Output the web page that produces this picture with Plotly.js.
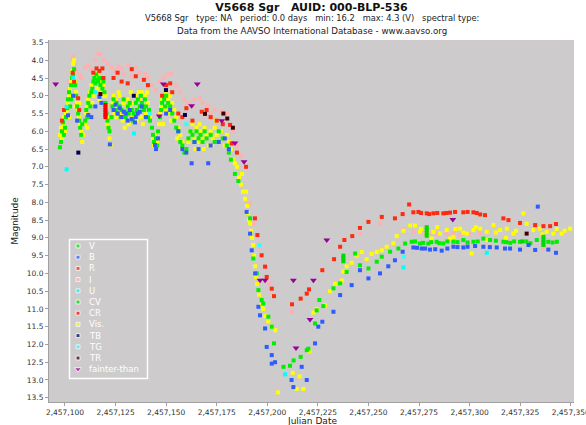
<!DOCTYPE html>
<html><head><meta charset="utf-8">
<script src="https://cdn.plot.ly/plotly-3.0.1.min.js"></script>
<style>html,body{margin:0;padding:0;background:#fff}#chart{width:586px;height:425px}</style>
</head><body><div id="chart"></div>
<script>
const JD0 = 2457000;
// [day offset from JD0, magnitude]
const visPts = [
[97.5,6.1],[98,5.9],[98.5,6.2],[99,5.8],[99.5,5.6],[100,6.0],[100.5,5.5],[101,5.4],[101.5,5.2],[102,5.0],[102.5,4.8],[103,4.6],[103.5,4.3],[104,4.1],[104.5,4.0],[104,4.3],[103.5,4.7],[104.5,4.5],[105,4.6],[105.5,4.9],[106,5.2],[106.5,5.4],[107,5.6],[107.5,5.8],[108,6.0],[108.5,6.3],[109,6.1],[107,5.2],[102,5.6],[105,5.3],
[110,5.8],[110.5,5.5],[111,5.3],[111.5,5.1],[112,5.0],[112.5,4.9],[113,4.7],[114,4.6],[115,4.5],[116,4.4],[117,4.5],[118,4.6],[119,4.7],[114,5.0],[116,4.8],[118,4.9],[113.5,5.2],[119.5,5.0],[111,5.9],[117,5.1],
[120,5.0],[120.5,5.3],[121,5.6],[121.5,5.9],[122,6.2],[122.5,6.4],[121,5.8],
[123.5,5.2],[124,5.0],[125,5.1],[126,5.3],[127,5.0],[128,5.4],[129,5.2],[130,5.5],[131,5.1],[132,5.3],[133,5.6],[134,5.2],[135,5.0],[136,5.4],[137,5.1],[138,4.9],[139,5.3],[140,5.5],[141,5.2],[142,5.6],[125.5,5.6],[128.5,5.7],[131.5,5.8],[134.5,5.5],[137.5,5.6],[124.5,5.5],[127.5,5.5],[130.5,5.3],[133.5,5.0],[136.5,4.9],[139.5,5.0],[126.5,4.9],[129.5,5.9],[132.5,4.9],[135.5,5.7],[138.5,5.8],[140.5,4.9],
[143,5.9],[143.5,6.2],[144,6.4],[144.5,6.1],[145,6.5],[145.5,6.3],[146,6.0],[146.5,5.8],
[147,5.5],[147.5,5.3],[148,5.1],[149,5.0],[150,4.9],[151,5.1],[152,5.0],[153,5.2],[149.5,5.4],[151.5,5.5],[148.5,5.8],[152.5,5.7],
[154,5.4],[155,5.6],[156,5.9],[157,6.1],[158,6.3],[159,6.5],[160,6.6],[155.5,6.2],[157.5,6.5],[161,6.3],
[162,6.0],[163,5.8],[164,6.2],[165,5.9],[166,6.3],[167,6.0],[168,6.2],[169,5.9],[170,6.1],[171,6.4],[172,6.0],[173,6.2],[174,5.9],[175,6.1],[176,6.3],[177,6.0],[178,6.2],[179,6.4],[180,6.1],[164.5,6.5],[168.5,6.5],[172.5,6.4],[166.5,5.8],[174.5,5.7],
[181,6.3],[182,6.5],[183,6.8],[184,6.9],[185,7.0],[186,7.3],[187,7.5],[188,7.7],[189,7.9],[190,8.1],[190.5,8.3],[191,8.5],[191.5,8.6],[192,8.8],[192.5,9.0],[193,9.2],[193.5,9.5],[194,9.8],[194.5,10.1],[195,10.3],[196,10.6],[197,10.9],[198,11.0],[199,11.2],[200.5,11.35],[202,11.5],[204,11.6],[187.5,7.2],[189.5,7.7],
[205.3,13.35],[212.6,12.8],[214.5,13.25],[217.8,13.25],[216,12.9],
[220.8,12.2],[222.8,11.1],[224.4,11.0],[228.5,10.9],[231,10.5],[233.5,10.3],[236.8,10.2],[237.6,9.95],[239.2,9.8],[241.7,9.7],[244.2,9.5],[246.7,9.4],[249.1,9.6],[251.6,9.45],[254.1,9.4],[256.6,9.35],[259,9.25],[262.3,9.15],[264,8.95],[267.3,8.8],[270.6,8.65],[273,8.65],
[275.5,8.83],[278.8,8.88],[282.1,8.83],[285.4,8.88],[288.7,8.78],[292,8.97],[295.3,8.74],[298.6,8.88],[301.9,8.78],[305.2,8.74],[308.5,8.83],[311.8,8.64],[315.1,8.78],[318.4,8.74],[321.7,8.88],[326.6,8.31],[328.2,8.6],[331.5,8.78],[334.8,8.74],[338.1,8.83],[341.4,8.88],[345.5,8.88],[349.7,8.74],[301,9.44],[281.3,9.02],[290.3,9.02],[308.5,9.06],[318,9.0],[276,8.75],[284,8.7],[293,8.75],[297,8.85],[303,8.7],[313,8.85],[323,8.8],[336,8.9],[343,8.75],[347,8.8]
];
const vPts = [
[97.5,6.45],[98,6.3],[98.5,6.0],[99,5.75],[99.5,6.1],[100,5.9],[100.5,5.6],[101,5.35],[101.5,5.1],[102,4.9],[102.5,5.3],[103,4.7],[103.5,4.5],[104,4.4],[104.5,4.25],[103,5.1],[105,4.7],[105.5,5.0],[106,5.3],[106.5,5.5],[107,5.7],[107.5,5.9],[108,6.1],[108.5,5.8],
[110,5.7],[110.5,5.4],[111,5.6],[111.5,5.2],[112,5.0],[112.5,5.3],[113,4.9],[113.5,4.8],[114,4.6],[114.5,4.5],[115,4.65],[115.5,4.4],[116,4.55],[116.5,4.6],[117,4.5],[117.5,4.7],[118,4.5],[118.5,4.8],[119,4.6],[119.5,4.9],[120,5.2],[120.5,5.5],[121,5.7],[121.5,5.9],[122,6.0],
[123,5.6],[123.5,5.3],[124,5.1],[125,5.4],[125.5,5.2],[126,5.5],[127,5.3],[127.5,5.6],[128,5.4],[129,5.1],[129.5,5.45],[130,5.6],[131,5.3],[131.5,5.5],[132,5.2],[133,5.4],[133.5,5.7],[134,5.5],[135,5.2],[135.5,5.4],[136,5.1],[137,5.3],[137.5,5.0],[138,5.2],[139,5.4],[139.5,5.1],[140,5.3],[141,5.6],[141.5,5.4],[142,5.7],
[143,5.9],[143.5,6.1],[144,6.3],[145,6.2],[145.5,6.4],[146,6.0],[147,5.6],[147.5,5.4],[148,5.2],[149,5.1],[149.5,5.3],[150,5.0],[151,5.2],[152,5.3],[153,5.5],[154,5.7],[155,5.9],[156,6.0],[157,6.3],[158,6.4],[159,6.6],[160,6.5],[161,6.2],[162,6.0],[163,6.1],[164,6.3],[165,6.0],[166,6.2],[167,6.1],[168,6.3],[169,6.0],[170,6.2],[172,6.1],[174,6.3],[176,6.0],[178,6.2],[180,6.4],[181,6.6],[182,6.8],[184,7.2],[185.7,7.4],
[191.5,8.45],[193.1,9.58],[194.8,10.0],[195.6,10.47],[197.2,10.75],[198,10.85],[200.5,11.22],[202.2,11.5],[203.3,11.97],[208,12.63],[211.2,12.6],[213,12.45],[216.5,12.35],[219.5,12.16],[220.3,12.12],[223.6,11.41],[224.4,11.04],[225.7,10.75],[227.7,10.92],[232.7,10.42],[236,10.28],[239.2,9.96],[243.4,9.44],[245.8,9.77],[250,9.86],[254.1,9.67],[256.6,9.53],[260.7,9.39],[264.8,9.3],[268.1,9.16],[271.4,9.11],[275.5,9.16],[279.6,9.16],[283.7,9.11],[287,9.16],[292,9.11],[296.9,9.06],[301.9,9.11],[306.8,9.02],[310.1,9.06],[316.7,9.11],[320,9.14],[324.9,9.11],[333.2,9.06],[338.9,9.11],[343.1,9.11],[273,9.1],[277,9.14],[281,9.12],[285,9.15],[289,9.1],[294,9.12],[299,9.13],[304,9.1],[313,9.08],[318,9.12],[322,9.1],[328,9.1],[330,9.15],[341,9.13]
];
const cvPts = [[278.8,8.7],[278.8,8.78],[278.8,8.86],[278.8,8.94],[237.6,9.5],[237.6,9.58],[237.6,9.66],[336.5,8.97],[336.5,9.05],[336.5,9.13],[336.5,9.2],[326,9.1]];
const bPts = [
[101.5,5.55],[104,5.0],[106,5.7],[111.5,5.54],[113,5.6],[117,5.03],[115,5.3],[118,5.2],[122.2,6.37],[124,5.4],[126,5.5],[127,5.35],[128,5.6],[129,5.45],[130,5.5],[131,5.7],[132,5.4],[133,5.65],[134.6,5.75],[136,5.5],[138,5.3],[140,5.6],[125,5.25],[135,5.6],[137,5.45],[144.5,6.39],[145,6.5],[146,6.2],[150,5.5],[152,5.4],[156,6.0],[158,6.5],[160,6.6],[162.6,6.9],[164,6.3],[166,6.5],[170.8,6.9],[172,6.4],[176,6.3],[179,6.2],[181,6.5],
[189.8,8.27],[191.5,8.88],[192.3,9.35],[194,10.0],[195.6,10.94],[196.4,11.18],[198.9,11.55],[199.7,12.07],[202.2,12.3],[202.2,12.54],[203.8,12.5],[212,13.0],[212.9,13.2],[217,12.63],[219.5,13.0],[223.6,11.97],[225.2,11.5],[227.2,11.36],[232.7,11.08],[236,10.61],[241.7,10.33],[245.8,9.91],[250,10.14],[255.7,10.0],[259.8,9.8],[263.1,9.63],[266.9,9.39],[272.2,9.27],[276.3,9.3],[280.4,9.33],[286.2,9.36],[292,9.25],[296.9,9.27],[302.7,9.23],[306.8,9.25],[313.4,9.27],[317.5,9.3],[324.9,9.33],[329.1,9.2],[332.4,9.34],[333.7,8.12],[338.9,9.33],[342.7,9.42],[274,9.28],[278,9.3],[283,9.32],[289,9.3],[294,9.26],[299,9.25],[310,9.26],[320,9.3]
];
const rPts = [
[98.5,5.7],[99.5,5.4],[103.8,4.35],[104.5,4.6],[106.5,5.07],[107,5.4],[114,4.35],[115.6,4.23],[117,4.3],[118.5,4.23],[119,4.5],[124,4.5],[126,4.35],[128,4.6],[131,4.65],[133,4.25],[135,4.45],[139,4.55],[141,4.7],[148,5.0],[150,4.7],[152,4.65],[153,4.9],[156,5.5],[158,5.6],[160,5.35],[163,5.7],[167.6,5.45],[170,5.4],[172,5.6],[175,5.7],[178,5.8],[181.6,5.82],[182.4,6.34],[185,6.6],
[189.5,7.0],[193.9,8.45],[195.1,8.92],[197.2,9.49],[198.9,9.81],[199.7,10.1],[202.2,10.43],[203.3,10.64],
[212.2,10.87],[216.5,10.71],[219.5,10.57],[220.6,10.45],[227.2,9.91],[233,9.6],[236,9.25],[238.1,9.06],[242,8.95],[245.8,8.72],[250,8.55],[256.6,8.41],[263.1,8.45],[266.9,8.33],[270.1,8.06],[272.2,8.28],[274.7,8.27],[278.8,8.31],[282.1,8.31],[287,8.31],[290.3,8.29],[292.8,8.27],[296.9,8.28],[301.9,8.28],[305.2,8.34],[307.6,8.36],[316.7,8.45],[319.2,8.5],[324.9,8.58],[332.4,8.64],[336.5,8.67],[339.8,8.67],[342.7,8.61],[276,8.3],[280,8.33],[284,8.3],[288.5,8.3],[299,8.27],[303.5,8.3]
];
const crPts = [[120,5.26],[120,5.33],[120,5.4],[120,5.47],[120,5.54],[120,5.6]];
const iPts = [
[103.8,3.9],[104.5,4.1],[102,4.6],[105.5,4.3],[107,4.4],[108,4.5],[110,4.2],[111.5,4.15],[113,4.25],[115,4.0],[116.4,3.81],[117.5,3.83],[119,4.0],[121,4.1],[123,4.2],[125,4.3],[126.4,4.18],[128,4.23],[129,4.4],[131.3,4.13],[133,4.45],[135,4.2],[137,4.35],[139.5,4.37],[141,4.5],[143,4.7],[145,4.85],[147,4.6],[149,4.5],[151,4.4],[152.7,4.37],[155,4.7],[157,4.9],[159,5.1],[161,5.2],[163,5.3],[164,5.1],[166.7,5.07],[168,5.2],[170.8,5.26],[172,5.5],[174,5.4],[177.4,5.45],[180,5.5],[183,6.0],[185,6.4],[187,6.7],
[191.5,8.03],[193.1,8.6],[196.4,9.25],[198.9,9.81],[201,10.3],[212.1,11.08],
[245.8,8.88],[255.7,8.6],[267.3,8.76],[272.2,8.83],[280.4,8.88],[288.7,8.89],[295.3,8.92],[305.2,8.88],[318.4,9.06],[336.5,9.3],[276,8.85],[284,8.9],[292,8.87],[300,8.9]
];
const uPts = [[100.8,7.07],[100.8,5.31],[134.1,6.06],[104,4.5],[115,4.9],[208.8,12.84],[267.3,9.83],[308.5,9.42]];
const tgPts = [[267.6,9.53],[142,5.5],[160,5.8],[196,9.2]];
const tbPts = [[106.6,6.6],[149.9,4.84],[159.3,5.54],[134,5.0]];
const trPts = [[178.3,5.5],[180.2,5.64],[169.2,5.51],[183,5.9],[328.2,8.88],[117.5,4.95]];
const fainterPts = [[95.4,4.67],[148.6,4.67],[165.4,4.67],[162.6,5.28],[146.6,5.57],[177.5,5.7],[184,6.33],[188.5,6.86],[196.4,10.19],[198.9,10.19],[212.9,10.19],[222.8,10.19],[221.1,11.3],[214.2,12.1],[229.4,9.06],[291.7,8.48]];

const seriesNames = ['V','B','R','I','U','CV','CR','Vis.','TB','TG','TR','fainter-than'];
const seriesColors = ['#00ee00','#2f5cff','#ff2a10','#ffb0b0','#00ffff','#00d800','#ff0000','#ffff00','#000050','#30ffff','#400000','#990099'];
const seriesData = [vPts,bPts,rPts,iPts,uPts,cvPts,crPts,visPts,tbPts,tgPts,trPts,fainterPts];
const drawOrder = [3,7,0,2,1,5,6,4,9,8,10,11];

const traces = [];
drawOrder.forEach(i => {
  const pts = seriesData[i];
  const isF = seriesNames[i] === 'fainter-than';
  traces.push({
    type:'scatter', mode:'markers', name: seriesNames[i],
    x: pts.map(p => JD0 + p[0]), y: pts.map(p => p[1]),
    marker:{symbol: isF ? 'triangle-down' : 'square', size: isF ? 6 : 4, color: seriesColors[i], line:{width:0}},
    showlegend:false, hoverinfo:'x+y+name'
  });
});

// custom legend drawn in pixel-like coordinates on an overlay axis pair
const legX0 = 69.5, legX1 = 147.5, legY0 = 239.5, legY1 = 378.5;
const legRowY = seriesNames.map((_, k) => 246 + k * 11.2);
traces.push({
  type:'scatter', mode:'markers', xaxis:'x2', yaxis:'y2', showlegend:false, hoverinfo:'skip',
  x: seriesNames.map(() => 78), y: legRowY,
  marker:{symbol: seriesNames.map(n => n === 'fainter-than' ? 'triangle-down' : 'square'),
          size: seriesNames.map(n => n === 'fainter-than' ? 6 : 4), color: seriesColors}
});
const annotations = seriesNames.map((n, k) => ({
  xref:'x2', yref:'y2', x: 87, y: legRowY[k], text: n, showarrow:false,
  xanchor:'left', yanchor:'middle', font:{family:'DejaVu Sans', size:8.5, color:'#ffffff'}
}));
annotations.push({xref:'paper', yref:'paper', x:0.5, y:1+(40-18.5)/362, yanchor:'middle', xanchor:'center', showarrow:false,
  text:'V5668 Sgr\u00a0\u00a0\u00a0type: NA\u00a0\u00a0\u00a0period: 0.0 days\u00a0\u00a0\u00a0min: 16.2\u00a0\u00a0\u00a0max: 4.3 (V)\u00a0\u00a0\u00a0spectral type:',
  font:{family:'DejaVu Sans', size:8.3, color:'#222'}});
annotations.push({xref:'paper', yref:'paper', x:0.5, y:1+(40-30.5)/362, yanchor:'middle', xanchor:'center', showarrow:false,
  text:'Data from the AAVSO International Database - www.aavso.org',
  font:{family:'DejaVu Sans', size:8.7, color:'#222'}});
// x-axis title placed just under the tick labels
annotations.push({xref:'paper', yref:'paper', x:0.5, y:-(420.5-402)/362, yanchor:'middle', xanchor:'center', showarrow:false,
  text:'Julian Date', font:{family:'DejaVu Sans', size:9, color:'#222'}});

const layout = {
  width:586, height:425,
  margin:{l:49, r:12, t:40, b:23},
  paper_bgcolor:'#ffffff', plot_bgcolor:'#cdcbcb',
  showlegend:false,
  title:{text:'<b>V5668 Sgr\u00a0\u00a0\u00a0AUID: 000-BLP-536</b>', x:0.5, xref:'paper', xanchor:'center', y:1-7.5/425, yref:'container', yanchor:'middle',
    font:{family:'DejaVu Sans', size:11, color:'#111'}},
  xaxis:{range:[JD0+92.1, JD0+351.6], tick0:JD0+100, dtick:25, tickformat:',d', showgrid:false, zeroline:false,
    ticklabeloverflow:'allow',
    showline:true, linecolor:'#a0a0a0', linewidth:1, ticks:'outside', ticklen:3, tickcolor:'#a0a0a0',
    tickfont:{family:'DejaVu Sans', size:7.5, color:'#333'}},
  yaxis:{range:[13.62, 3.43], tick0:3.5, dtick:0.5, tickformat:'.1f', showgrid:false, zeroline:false,
    showline:true, linecolor:'#a0a0a0', linewidth:1, ticks:'outside', ticklen:3, tickcolor:'#a0a0a0',
    tickfont:{family:'DejaVu Sans', size:7.5, color:'#333'},
    title:{text:'Magnitude', font:{family:'DejaVu Sans', size:9, color:'#222'}, standoff:6}},
  xaxis2:{overlaying:'x', anchor:'y2', range:[49,574], visible:false, fixedrange:true},
  yaxis2:{overlaying:'y', anchor:'x2', range:[402,40], visible:false, fixedrange:true},
  shapes:[{type:'rect', xref:'x2', yref:'y2', x0:legX0, x1:legX1, y0:legY0, y1:legY1, line:{color:'#ffffff', width:1.5}, fillcolor:'rgba(0,0,0,0)'}],
  annotations: annotations
};
Plotly.newPlot('chart', traces, layout, {displayModeBar:false, staticPlot:true});
</script>
</body></html>
